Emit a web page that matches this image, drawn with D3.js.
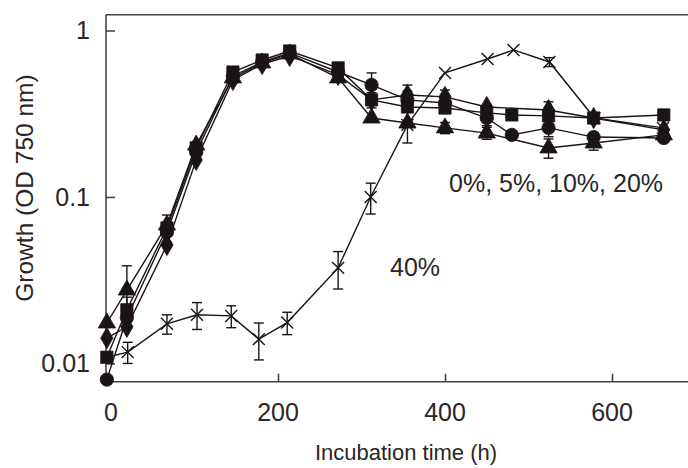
<!DOCTYPE html>
<html>
<head>
<meta charset="utf-8">
<script src="https://cdn.jsdelivr.net/npm/d3@7"></script>
<style>
  html, body { margin: 0; padding: 0; background: #ffffff; }
  svg { display: block; }
  text { font-family: "Liberation Sans", Arial, Helvetica, sans-serif; fill: #2b2526; }
</style>
</head>
<body>
<svg id="chart" width="688" height="468"></svg>
<script>
// ---------------- data ----------------
const xTicks = [200, 400, 600];
const yTicks = [0.01, 0.1, 1];
const yTickLabels = ["0.01", "0.1", "1"];
const xTitle = "Incubation time (h)";
const yTitle = "Growth (OD 750 nm)";
const groupLabel = "0%, 5%, 10%, 20%";
const label40 = "40%";

// series: circle
const circleTime  = [-5, 19, 67, 102, 146, 181, 214, 272, 312, 355, 400, 450, 480, 524, 578, 662];
const circleValue = [0.0080, 0.0188, 0.0616, 0.186, 0.533, 0.647, 0.733, 0.563, 0.471, 0.383, 0.367, 0.298, 0.236, 0.260, 0.229, 0.226];
const circleError = [0, 0, 0.008, 0.02, 0, 0, 0, 0, 0.085, 0.05, 0.04, 0.03, 0, 0.03, 0, 0];

// series: square
const squareTime  = [-5, 19, 67, 102, 146, 181, 214, 272, 312, 355, 400, 450, 480, 524, 578, 662];
const squareValue = [0.0109, 0.0210, 0.0651, 0.197, 0.563, 0.665, 0.753, 0.596, 0.383, 0.347, 0.342, 0.320, 0.311, 0.307, 0.298, 0.311];
const squareError = [0, 0.004, 0, 0, 0, 0, 0, 0, 0.04, 0, 0, 0, 0, 0, 0, 0];

// series: diamond
const diamondTime  = [-5, 19, 67, 102, 146, 181, 214, 272, 312, 355, 400, 450, 524, 578, 662];
const diamondValue = [0.0142, 0.0166, 0.0515, 0.167, 0.505, 0.629, 0.703, 0.541, 0.383, 0.410, 0.399, 0.347, 0.333, 0.298, 0.253];
const diamondError = [0, 0, 0, 0, 0, 0, 0, 0, 0, 0.06, 0.04, 0, 0.04, 0, 0];

// series: triangle
const triangleTime  = [-5, 19, 67, 102, 146, 181, 214, 272, 312, 355, 400, 450, 524, 578, 662];
const triangleValue = [0.0175, 0.0276, 0.0679, 0.205, 0.519, 0.638, 0.723, 0.519, 0.298, 0.278, 0.260, 0.242, 0.197, 0.211, 0.236];
const triangleError = [0, 0.011, 0.01, 0, 0, 0, 0, 0, 0, 0, 0.02, 0.02, 0.026, 0.02, 0];

// series: 40% (cross)
const crossTime  = [-5, 20, 67, 103, 144, 177, 211, 272, 311, 355, 400, 451, 482, 525, 579, 661];
const crossValue = [0.0109, 0.0117, 0.0173, 0.0196, 0.0193, 0.0140, 0.0176, 0.0375, 0.100, 0.271, 0.556, 0.674, 0.764, 0.647, 0.298, 0.260];
const crossError = [0, 0.0017, 0.0023, 0.0036, 0.0029, 0.0035, 0.0027, 0.0095, 0.021, 0.06, 0, 0, 0, 0.04, 0, 0];

// ---------------- drawing ----------------
const W = 688, H = 468;
const plotLeft = 106, plotRight = 688, plotTop = 14.7, plotBottom = 381.7;
const ink = "#1a1416";
const axisInk = "#4a4243";

const svg = d3.select("#chart");

const x = d3.scaleLinear().domain([-6, 691]).range([plotLeft, plotRight]);
const y = d3.scaleLog().domain([0.00777, 1.244]).range([plotBottom, plotTop]);

const series = [
  { name: "circle",   times: circleTime,   values: circleValue,   errors: circleError,   sym: d3.symbolCircle,   size: 140, fill: true },
  { name: "square",   times: squareTime,   values: squareValue,   errors: squareError,   sym: d3.symbolSquare,   size: 150, fill: true },
  { name: "diamond",  times: diamondTime,  values: diamondValue,  errors: diamondError,  sym: d3.symbolDiamond,  size: 130, fill: true },
  { name: "triangle", times: triangleTime, values: triangleValue, errors: triangleError, sym: d3.symbolTriangle, size: 130, fill: true },
  { name: "cross",    times: crossTime,    values: crossValue,    errors: crossError,    sym: d3.symbolX,        size: 95,  fill: false }
];

// axes frame
const gAxes = svg.append("g");
gAxes.append("line").attr("x1", plotLeft).attr("x2", plotRight).attr("y1", plotTop).attr("y2", plotTop)
  .attr("stroke", axisInk).attr("stroke-width", 1.6);

// y axis
const yAxis = d3.axisRight(y).tickValues(yTicks).tickSize(9).tickFormat(() => "");
const gy = svg.append("g").attr("transform", `translate(${plotLeft},0)`).call(yAxis);
gy.select(".domain").attr("stroke", axisInk).attr("stroke-width", 1.6)
  .attr("d", `M0,${plotTop}V${plotBottom}`);
gy.selectAll(".tick line").attr("stroke", axisInk).attr("stroke-width", 1.6);

// x axis
const xAxis = d3.axisTop(x).tickValues(xTicks).tickSize(8).tickFormat(() => "");
const gx = svg.append("g").attr("transform", `translate(0,${plotBottom})`).call(xAxis);
gx.select(".domain").attr("stroke", axisInk).attr("stroke-width", 1.6)
  .attr("d", `M${plotLeft},0H${plotRight}`);
gx.selectAll(".tick line").attr("stroke", axisInk).attr("stroke-width", 1.6);

// tick labels
svg.append("g").selectAll("text").data(yTicks).join("text")
  .attr("x", plotLeft - 16).attr("y", d => y(d)).attr("dy", "0.35em")
  .attr("text-anchor", "end").attr("font-size", 25)
  .text((d, i) => yTickLabels[i]);

svg.append("g").selectAll("text").data([0].concat(xTicks)).join("text")
  .attr("x", d => x(d)).attr("y", plotBottom + 39)
  .attr("text-anchor", "middle").attr("font-size", 25)
  .text(d => String(d));

// titles
svg.append("text").attr("x", 406).attr("y", 460).attr("text-anchor", "middle")
  .attr("font-size", 22).text(xTitle);
svg.append("text").attr("transform", "translate(33,188) rotate(-90)").attr("text-anchor", "middle")
  .attr("font-size", 24.5).text(yTitle);

// lines
const line = d3.line().x(d => x(d.t)).y(d => y(d.v));
const gLines = svg.append("g");
series.forEach(s => {
  const pts = s.times.map((t, i) => ({ t, v: s.values[i] }));
  gLines.append("path").datum(pts).attr("d", line)
    .attr("fill", "none").attr("stroke", ink).attr("stroke-width", 1.4);
});

// error bars
const gErr = svg.append("g");
series.forEach(s => {
  s.times.forEach((t, i) => {
    const e = s.errors[i];
    if (!e) return;
    const v = s.values[i];
    const lo = Math.max(v - e, 0.0079), hi = v + e;
    const cx = x(t);
    gErr.append("line").attr("x1", cx).attr("x2", cx).attr("y1", y(lo)).attr("y2", y(hi))
      .attr("stroke", ink).attr("stroke-width", 1.4);
    [lo, hi].forEach(b => {
      gErr.append("line").attr("x1", cx - 5).attr("x2", cx + 5).attr("y1", y(b)).attr("y2", y(b))
        .attr("stroke", ink).attr("stroke-width", 1.4);
    });
  });
});

// markers
const gMarks = svg.append("g");
series.forEach(s => {
  const sym = d3.symbol().type(s.sym).size(s.size);
  s.times.forEach((t, i) => {
    gMarks.append("path").attr("d", sym())
      .attr("transform", `translate(${x(t)},${y(s.values[i])})`)
      .attr("fill", s.fill ? ink : "none")
      .attr("stroke", ink).attr("stroke-width", s.fill ? 0.8 : 1.4);
  });
});

// in-plot labels
svg.append("text").attr("x", 390).attr("y", 276).attr("font-size", 25).text(label40);
svg.append("text").attr("x", 449).attr("y", 192).attr("font-size", 25).text(groupLabel);
</script>
</body>
</html>
